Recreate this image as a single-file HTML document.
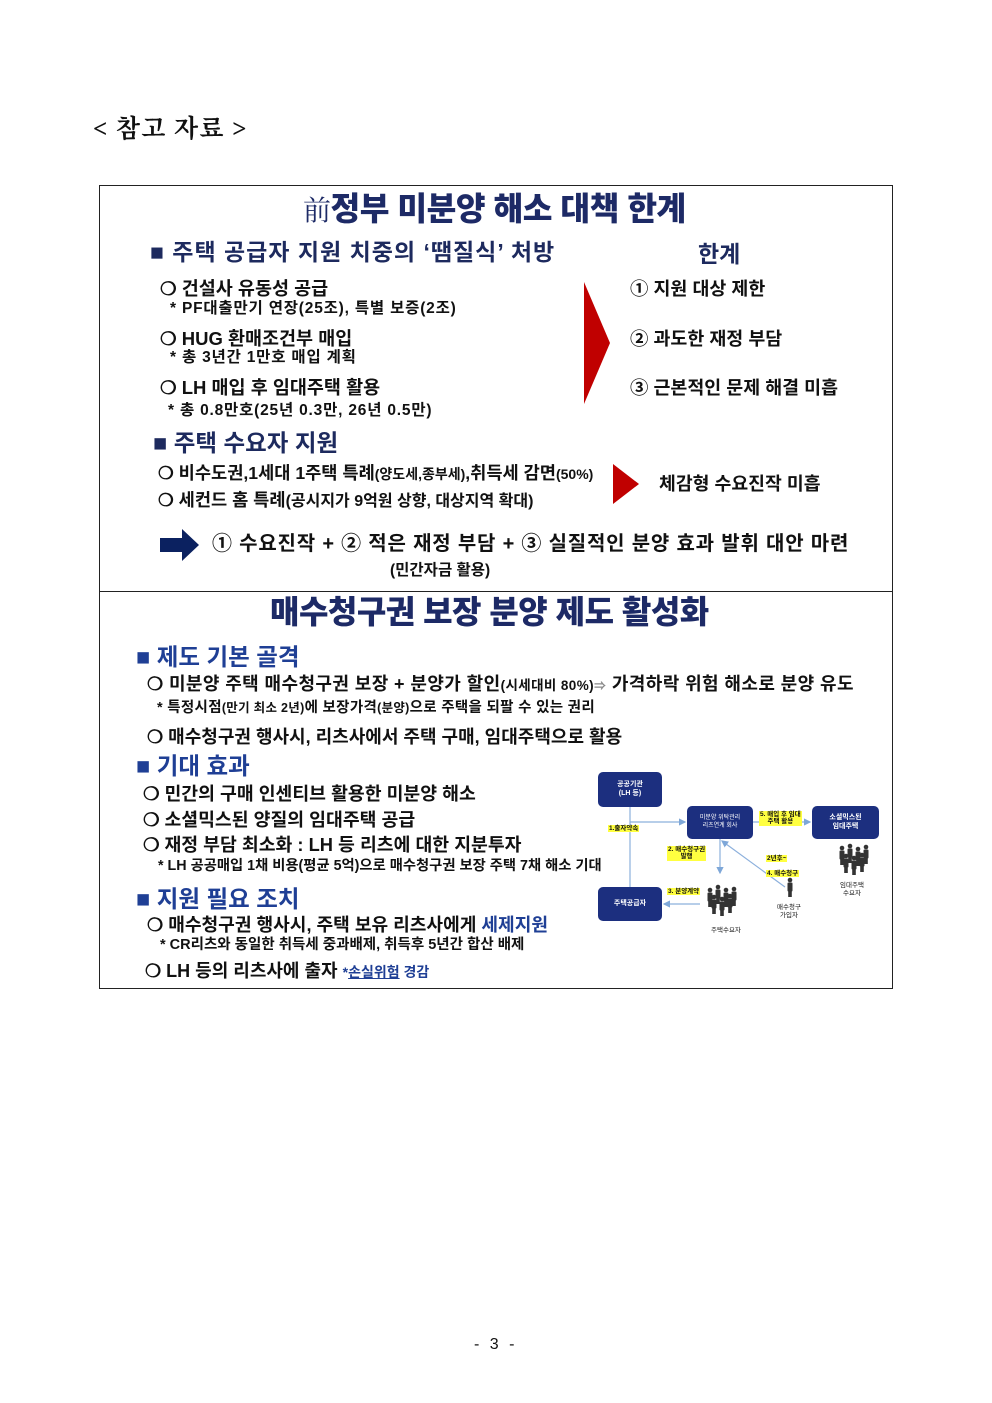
<!DOCTYPE html>
<html><head><meta charset="utf-8"><style>
body{margin:0;background:#fff;}
#p{position:relative;width:992px;height:1403px;overflow:hidden;font-family:"Liberation Sans","Noto Sans CJK KR",sans-serif;color:#111;}
.a{position:absolute;white-space:nowrap;line-height:1;}
.b{font-weight:700;}
.t{font-weight:900;color:#1d2a66;letter-spacing:-0.5px;}
.h{font-weight:700;color:#1d2a5e;}
.hb{font-weight:700;color:#1f3f95;}
.bx{position:absolute;background:#1c2f7f;border-radius:5px;color:#fff;font-size:7px;font-weight:700;text-align:center;display:flex;align-items:center;justify-content:center;line-height:1.2;}
.y{position:absolute;background:#ffff40;font-size:6.5px;font-weight:700;white-space:nowrap;line-height:1.15;padding:0 1px;}
.s{position:absolute;font-size:6.5px;text-align:center;white-space:nowrap;line-height:1.3;}
</style></head><body><div id="p">
<div class="a" style="left:93px;top:117px;font-size:25px;letter-spacing:1.2px;font-family:'Liberation Serif','Noto Serif CJK SC',serif;font-weight:700;">&lt; 참고 자료 &gt;</div>
<div style="position:absolute;left:99px;top:185px;width:792px;height:802px;border:1px solid #222;"></div>
<div style="position:absolute;left:99px;top:591px;width:793px;height:1px;background:#222;"></div>

<div class="a t" style="left:303px;top:193px;font-size:32.3px;"><span style="font-weight:400;font-family:'Noto Serif CJK SC',serif;font-size:28px;">前</span>정부 미분양 해소 대책 한계</div>
<div class="a h" style="left:150px;top:241px;font-size:23px;letter-spacing:1px;">■ 주택 공급자 지원 치중의 ‘땜질식’ 처방</div>
<div class="a h" style="left:698px;top:243px;font-size:23px;">한계</div>
<div class="a b" style="left:160px;top:280px;font-size:18.5px;">❍ 건설사 유동성 공급</div>
<div class="a b" style="left:170px;top:301px;font-size:15.5px;letter-spacing:0.8px;">* PF대출만기 연장(25조), 특별 보증(2조)</div>
<div class="a b" style="left:160px;top:330px;font-size:18.5px;">❍ HUG 환매조건부 매입</div>
<div class="a b" style="left:170px;top:350px;font-size:15.5px;letter-spacing:0.8px;">* 총 3년간 1만호 매입 계획</div>
<div class="a b" style="left:160px;top:379px;font-size:18.5px;">❍ LH 매입 후 임대주택 활용</div>
<div class="a b" style="left:168px;top:403px;font-size:15.5px;letter-spacing:0.8px;">* 총 0.8만호(25년 0.3만, 26년 0.5만)</div>
<svg style="position:absolute;left:584px;top:282px" width="28" height="122"><polygon points="0,0 26,61 0,122" fill="#c00000"/></svg>
<div class="a b" style="left:630px;top:280px;font-size:18.4px;">① 지원 대상 제한</div>
<div class="a b" style="left:630px;top:330px;font-size:18.4px;">② 과도한 재정 부담</div>
<div class="a b" style="left:630px;top:379px;font-size:18.4px;">③ 근본적인 문제 해결 미흡</div>

<div class="a h" style="left:153px;top:432px;font-size:23.5px;">■ 주택 수요자 지원</div>
<div class="a b" style="left:158px;top:465px;font-size:17.6px;">❍ 비수도권,1세대 1주택 특례<span style="font-size:14px">(양도세,종부세)</span>,취득세 감면<span style="font-size:14px">(50%)</span></div>
<div class="a b" style="left:158px;top:492px;font-size:17.6px;">❍ 세컨드 홈 특례<span style="font-size:16px">(공시지가 9억원 상향, 대상지역 확대)</span></div>
<svg style="position:absolute;left:613px;top:464px" width="28" height="40"><polygon points="0,0 26,20 0,40" fill="#c00000"/></svg>
<div class="a b" style="left:659px;top:475px;font-size:18.3px;">체감형 수요진작 미흡</div>
<svg style="position:absolute;left:160px;top:529px" width="40" height="32"><polygon points="0,9 22,9 22,0 39,16 22,32 22,23 0,23" fill="#0b2160"/></svg>
<div class="a b" style="left:212px;top:534px;font-size:20px;letter-spacing:0.8px;">① 수요진작 + ② 적은 재정 부담 + ③ 실질적인 분양 효과 발휘 대안 마련</div>
<div class="a b" style="left:390px;top:563px;font-size:15.5px;">(민간자금 활용)</div>

<div class="a t" style="left:270px;top:596px;font-size:32px;">매수청구권 보장 분양 제도 활성화</div>
<div class="a hb" style="left:136px;top:646px;font-size:23.5px;">■ 제도 기본 골격</div>
<div class="a b" style="left:147px;top:675px;font-size:18px;letter-spacing:0.4px;">❍ 미분양 주택 매수청구권 보장 + 분양가 할인<span style="font-size:13.5px">(시세대비 80%)</span><span style="font-size:12px;color:#888">⇒</span> 가격하락 위험 해소로 분양 유도</div>
<div class="a b" style="left:157px;top:701px;font-size:14.5px;letter-spacing:0.3px;">* 특정시점<span style="font-size:12.5px">(만기 최소 2년)</span>에 보장가격<span style="font-size:12.5px">(분양)</span>으로 주택을 되팔 수 있는 권리</div>
<div class="a b" style="left:147px;top:728px;font-size:18px;">❍ 매수청구권 행사시, 리츠사에서 주택 구매, 임대주택으로 활용</div>
<div class="a hb" style="left:136px;top:755px;font-size:23.5px;">■ 기대 효과</div>
<div class="a b" style="left:143px;top:785px;font-size:18.3px;">❍ 민간의 구매 인센티브 활용한 미분양 해소</div>
<div class="a b" style="left:143px;top:811px;font-size:18.3px;">❍ 소셜믹스된 양질의 임대주택 공급</div>
<div class="a b" style="left:143px;top:836px;font-size:18.3px;">❍ 재정 부담 최소화 : LH 등 리츠에 대한 지분투자</div>
<div class="a b" style="left:158px;top:859px;font-size:14.3px;">* LH 공공매입 1채 비용(평균 5억)으로 매수청구권 보장 주택 7채 해소 기대</div>
<div class="a hb" style="left:136px;top:888px;font-size:23.5px;">■ 지원 필요 조치</div>
<div class="a b" style="left:147px;top:916px;font-size:18.1px;">❍ 매수청구권 행사시, 주택 보유 리츠사에게 <span style="color:#1f3f95">세제지원</span></div>
<div class="a b" style="left:160px;top:938px;font-size:14.5px;">* CR리츠와 동일한 취득세 중과배제, 취득후 5년간 합산 배제</div>
<div class="a b" style="left:145px;top:962px;font-size:18px;">❍ LH 등의 리츠사에 출자 <span style="font-size:14px;color:#1f3f95">*<u>손실위험</u> 경감</span></div>

<svg style="position:absolute;left:590px;top:765px" width="300" height="180">
<defs><marker id="m" markerWidth="6" markerHeight="6" refX="5" refY="3" orient="auto"><path d="M0,0 L6,3 L0,6z" fill="#7ea7d8"/></marker>
<g id="pp"><circle cx="0" cy="0" r="2.3"/><rect x="-2.5" y="2.5" width="5" height="9" rx="1"/><rect x="-1.8" y="11" width="3.6" height="6"/></g></defs>
<g stroke="#8cb0dc" stroke-width="1.2" fill="none">
<line x1="40" y1="42" x2="40" y2="122"/>
<line x1="40" y1="57" x2="95" y2="57" marker-end="url(#m)"/>
<line x1="163" y1="57" x2="220" y2="57" marker-end="url(#m)"/>
<line x1="130" y1="74" x2="130" y2="108" marker-end="url(#m)"/>
<line x1="195" y1="122" x2="132" y2="76" marker-end="url(#m)"/>
<line x1="110" y1="139" x2="74" y2="139" marker-end="url(#m)"/>
</g>
<g fill="#333">
<use href="#pp" x="200" y="115"/>
<use href="#pp" x="120" y="125"/><use href="#pp" x="128" y="122"/><use href="#pp" x="136" y="125"/><use href="#pp" x="144" y="124"/>
<use href="#pp" x="124" y="132"/><use href="#pp" x="132" y="134"/><use href="#pp" x="140" y="131"/>
<use href="#pp" x="252" y="83"/><use href="#pp" x="260" y="81"/><use href="#pp" x="268" y="84"/><use href="#pp" x="276" y="82"/>
<use href="#pp" x="256" y="91"/><use href="#pp" x="264" y="93"/><use href="#pp" x="272" y="90"/>
</g>
</svg>
<div class="bx" style="left:598px;top:772px;width:64px;height:35px;">공공기관<br>(LH 등)</div>
<div class="bx" style="left:687px;top:806px;width:66px;height:33px;font-size:6px;font-weight:400;">미분양 위탁관리<br>리츠연계 회사</div>
<div class="bx" style="left:812px;top:806px;width:67px;height:33px;">소셜믹스된<br>임대주택</div>
<div class="bx" style="left:598px;top:887px;width:64px;height:34px;">주택공급자</div>
<div class="y" style="left:608px;top:825px;">1.출자약속</div>
<div class="y" style="left:759px;top:811px;text-align:center;">5. 매입 후 임대<br>주택 활용</div>
<div class="y" style="left:667px;top:846px;text-align:center;">2. 매수청구권<br>발행</div>
<div class="y" style="left:766px;top:855px;">2년후~</div>
<div class="y" style="left:766px;top:870px;">4. 매수청구</div>
<div class="y" style="left:667px;top:888px;">3. 분양계약</div>
<div class="s" style="left:777px;top:904px;">매수청구<br>가입자</div>
<div class="s" style="left:711px;top:927px;">주택수요자</div>
<div class="s" style="left:840px;top:882px;">임대주택<br>수요자</div>

<div class="a" style="left:474px;top:1337px;font-size:16px;letter-spacing:3px;">- 3 -</div>
</div></body></html>
